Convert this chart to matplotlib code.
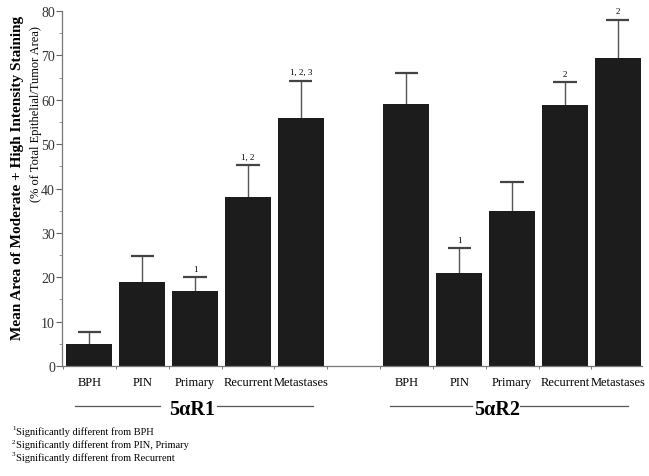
import numpy as np
import matplotlib.pyplot as plt
from matplotlib.ticker import MultipleLocator

plt.rcParams['font.family'] = ['Liberation Serif', 'DejaVu Serif']

# data
categories = ["BPH", "PIN", "Primary", "Recurrent", "Metastases"]
r1_means = [5, 19, 17, 38, 56]
r1_err = [2.6, 5.8, 3.0, 7.3, 8.3]
r1_marks = ["", "", "1", "1, 2", "1, 2, 3"]
r2_means = [59, 21, 35, 58.8, 69.3]
r2_err = [7.0, 5.5, 6.5, 5.2, 8.7]
r2_marks = ["", "1", "", "2", "2"]
groups = ["5\u03b1R1", "5\u03b1R2"]
footnotes = ["Significantly different from BPH",
             "Significantly different from PIN, Primary",
             "Significantly different from Recurrent"]

W, H = 649, 477
fig = plt.figure(figsize=(W / 100, H / 100), dpi=100)
ax = fig.add_axes([0.0955, 0.2306, 0.893, 0.7442])

x1 = np.arange(5)
x2 = np.arange(5) + 6
means = np.array(r1_means + r2_means)
errs = np.array(r1_err + r2_err)
marks = r1_marks + r2_marks
xs = np.concatenate([x1, x2])

ax.bar(xs, means, width=0.87, color="#1c1c1c", zorder=2)
# upper-only error bars
ax.vlines(xs, means, means + errs, color="#555555", lw=1.0, zorder=1)
ax.hlines(means + errs, xs - 0.22, xs + 0.22, color="#444444", lw=1.6,
          zorder=1)
for x, m, e, t in zip(xs, means, errs, marks):
    if t:
        ax.text(x, m + e + 1.0, t, ha="center", va="bottom", fontsize=6.5)

ax.set_xlim(-0.52, 10.45)
ax.set_ylim(0, 80)
ax.yaxis.set_major_locator(MultipleLocator(10))
ax.yaxis.set_minor_locator(MultipleLocator(5))
ax.tick_params(axis="y", which="major", length=4, width=0.8, color="#666666",
               labelsize=10, labelcolor="#333333", pad=1)
ax.tick_params(axis="y", which="minor", length=2, width=0.6, color="#888888")
ax.set_xticks(np.arange(11))
ax.set_xticklabels(categories + [""] + categories, fontsize=9)
ax.tick_params(axis="x", length=0, pad=7)
ax.set_xticks(np.arange(11) - 0.5, minor=True)
ax.tick_params(axis="x", which="minor", length=2, color="#666666")
for s in ["top", "right"]:
    ax.spines[s].set_visible(False)
for s in ["left", "bottom"]:
    ax.spines[s].set_color("#777777")
    ax.spines[s].set_linewidth(0.9)

fig.text(18 / W, 1 - 178 / H,
         "Mean Area of Moderate + High Intensity Staining",
         rotation=90, ha="center", va="center", fontsize=11,
         fontweight="bold")
fig.text(36 / W, 1 - 114 / H, "(% of Total Epithelial/Tumor Area)",
         rotation=90, ha="center", va="center", fontsize=9)

# group labels with lines
for gx, g in zip([192, 497], groups):
    fig.text(gx / W, 1 - 410 / H, g, ha="center", va="center",
             fontsize=14.5, fontweight="bold")
line_spans = [(75, 160), (217, 313), (390, 472), (520, 628)]
for a, b in line_spans:
    fig.add_artist(plt.Line2D([a / W, b / W], [1 - 407 / H] * 2,
                              color="#555555", lw=0.9))

for i, f in enumerate(footnotes):
    y = 1 - (432 + 13 * i) / H
    fig.text(12 / W, y + 3 / H, str(i + 1), fontsize=5, va="center")
    fig.text(16 / W, y, f, fontsize=7.5, va="center")

fig.savefig("out.png", dpi=100)
